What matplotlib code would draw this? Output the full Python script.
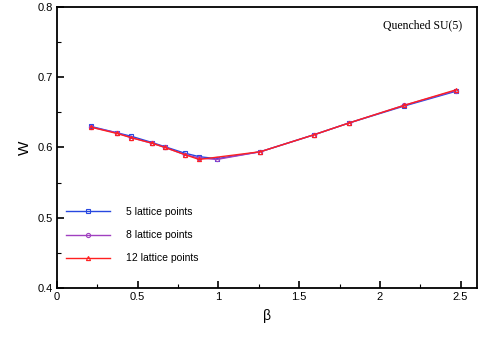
import matplotlib
matplotlib.use("Agg")
import matplotlib.pyplot as plt
from matplotlib.ticker import MultipleLocator

plt.rcParams['font.family'] = ['Liberation Sans', 'DejaVu Sans']

# beta values and Wilson loop W for each lattice size
beta_5 = [0.21, 0.37, 0.46, 0.59, 0.67, 0.79, 0.88, 0.99, 1.26, 1.59, 1.81, 2.15, 2.47]
w_5 = [0.630, 0.621, 0.616, 0.607, 0.601, 0.592, 0.587, 0.584, 0.594, 0.618, 0.635, 0.659, 0.680]

beta_8 = [0.21, 0.37, 0.46, 0.59, 0.67, 0.79, 0.88, 0.99, 1.26, 1.59, 1.81, 2.15, 2.47]
w_8 = [0.629, 0.621, 0.614, 0.606, 0.600, 0.590, 0.585, 0.583, 0.594, 0.618, 0.635, 0.660, 0.681]

beta_12 = [0.21, 0.37, 0.46, 0.59, 0.67, 0.79, 0.88, 1.26, 1.59, 1.81, 2.15, 2.47]
w_12 = [0.629, 0.620, 0.614, 0.606, 0.600, 0.590, 0.583, 0.594, 0.618, 0.635, 0.660, 0.682]

fig = plt.figure(figsize=(4.85, 3.46), dpi=100)
ax = fig.add_axes([0.1175, 0.1676, 0.8655, 0.8122])

ax.plot(beta_5, w_5, color='#2848e0', lw=1.0, marker='s', ms=3,
        mfc='none', mec='#2848e0', mew=0.8, label='5 lattice points')
ax.plot(beta_8, w_8, color='#a040c0', lw=1.0, marker='o', ms=3,
        mfc='none', mec='#a040c0', mew=0.8, label='8 lattice points')
ax.plot(beta_12, w_12, color='#ff2020', lw=1.0, marker='^', ms=3,
        mfc='none', mec='#ff2020', mew=0.8, label='12 lattice points')

ax.set_xlim(0, 2.6)
ax.set_ylim(0.4, 0.8)
ax.xaxis.set_major_locator(MultipleLocator(0.5))
ax.xaxis.set_minor_locator(MultipleLocator(0.25))
ax.yaxis.set_major_locator(MultipleLocator(0.1))
ax.yaxis.set_minor_locator(MultipleLocator(0.05))
ax.xaxis.set_major_formatter(plt.FuncFormatter(lambda v, p: f"{v:g}"))
ax.yaxis.set_major_formatter(plt.FuncFormatter(lambda v, p: f"{v:g}"))
ax.tick_params(which='both', direction='in', top=False, right=False, labelsize=8, pad=3)
ax.tick_params(which='major', length=5, width=1.2)
ax.tick_params(which='minor', length=3, width=0.8)
for s in ax.spines.values():
    s.set_linewidth(1.3)

ax.set_xlabel('β', fontsize=10, labelpad=5)
ax.set_ylabel('W', fontsize=11, labelpad=4)

ax.text(0.965, 0.936, 'Quenched SU(5)', transform=ax.transAxes, ha='right', va='center',
        fontsize=8.5, family=['Liberation Serif', 'DejaVu Serif'])

ax.legend(loc='lower left', bbox_to_anchor=(0.0, 0.055), frameon=False, fontsize=7.5,
          handlelength=4.2, labelspacing=1.25, handletextpad=1.5)

fig.savefig('out.png', dpi=100)
